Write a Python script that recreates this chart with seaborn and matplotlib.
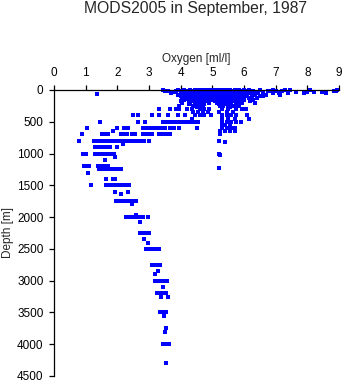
import matplotlib
matplotlib.use("Agg")
import matplotlib.pyplot as plt
import seaborn as sns
import pandas as pd

# Oxygen observations (ml/l) grouped by sampling depth (m)
depth_levels = [
    0, 10, 20, 30, 40, 50, 60, 75, 90, 100, 125, 140, 150, 175, 200, 225, 250, 275,
    300, 350, 400, 450, 500, 550, 600, 650, 700, 800, 820, 850, 900,
    1000, 1020, 1050, 1100, 1200, 1230, 1250, 1300, 1400, 1500, 1600, 1630,
    1750, 1800, 1960, 2000, 2080, 2250, 2350, 2400, 2500, 2750, 2850, 2900,
    3000, 3100, 3200, 3250, 3500, 3550, 3750, 3800, 4000, 4300,
]

oxygen_by_level = [
    [3.45, 3.9, 4.1, 4.3, 4.45, 4.55, 4.65, 4.75, 4.85, 4.95, 5.05, 5.15, 5.25, 5.35,
     5.45, 5.55, 5.7, 5.85, 6.0, 6.15, 6.5, 6.9, 7.3, 7.45, 8.1, 8.95],
    [3.6, 4.0, 4.25, 4.4, 4.5, 4.6, 4.7, 4.8, 4.9, 5.0, 5.1, 5.2, 5.3, 5.4, 5.5, 5.6,
     5.75, 5.9, 6.05, 6.2, 6.85, 7.2, 8.9],
    [3.5, 3.85, 4.05, 4.2, 4.35, 4.5, 4.6, 4.7, 4.8, 4.9, 5.0, 5.1, 5.2, 5.3, 5.4, 5.5,
     5.65, 5.8, 5.95, 6.1, 6.3, 6.75, 7.0, 8.85],
    [3.8, 4.15, 4.3, 4.45, 4.55, 4.65, 4.75, 4.85, 4.95, 5.05, 5.15, 5.25, 5.35, 5.45,
     5.55, 5.65, 5.75, 5.9, 6.05, 6.25, 6.6, 7.65, 8.0, 8.2, 8.45],
    [4.0, 4.25, 4.4, 4.6, 4.8, 5.0, 5.2, 5.4, 5.6, 5.8, 6.0, 6.4, 7.1],
    [3.7, 4.0, 4.2, 4.35, 4.5, 4.6, 4.7, 4.8, 4.9, 5.0, 5.1, 5.2, 5.3, 5.4, 5.5, 5.6,
     5.7, 5.85, 6.0, 6.2, 6.45, 6.9, 7.4, 7.9, 8.6],
    [1.35, 4.3, 4.7, 5.1, 5.5, 5.9],
    [3.9, 4.05, 4.3, 4.45, 4.55, 4.65, 4.75, 4.85, 4.95, 5.05, 5.15, 5.25, 5.35, 5.45,
     5.55, 5.65, 5.8, 5.95, 6.1, 6.35, 6.7, 7.15],
    [4.15, 4.4, 4.65, 4.9, 5.15, 5.4, 5.65, 5.9, 6.5],
    [4.0, 4.2, 4.35, 4.5, 4.6, 4.7, 4.8, 4.9, 5.0, 5.1, 5.2, 5.3, 5.4, 5.5, 5.6, 5.7,
     5.85, 6.05, 6.25, 6.6],
    [4.05, 4.3, 4.45, 4.55, 4.7, 4.8, 4.95, 5.05, 5.15, 5.25, 5.35, 5.5, 5.6, 5.75,
     5.9, 6.15, 6.4],
    [4.2, 4.5, 4.9, 5.1, 5.4, 5.65, 5.95],
    [4.1, 4.25, 4.4, 4.6, 4.75, 4.85, 5.0, 5.2, 5.3, 5.45, 5.55, 5.7, 5.85, 6.0, 6.3],
    [4.0, 4.35, 4.5, 4.65, 4.8, 5.1, 5.25, 5.4, 5.5, 5.65, 5.8, 6.2],
    [4.05, 4.3, 4.45, 4.6, 4.9, 5.15, 5.3, 5.45, 5.6, 5.75, 5.95, 6.35],
    [4.25, 4.5, 4.75, 5.2, 5.4, 5.6, 5.8],
    [3.95, 4.4, 4.55, 4.7, 5.25, 5.35, 5.5, 5.65, 5.85],
    [4.5, 4.65, 5.3, 5.55, 5.75],
    [3.3, 3.65, 3.85, 3.95, 4.2, 4.35, 4.62, 4.75, 4.9, 5.3, 5.5, 5.75, 5.95, 6.05],
    [4.4, 4.55, 4.7, 4.85, 5.2, 5.45, 5.65],
    [2.5, 2.65, 3.1, 3.3, 3.6, 3.9, 4.15, 4.45, 4.6, 4.75, 4.95, 5.3, 5.45, 5.6, 5.75, 6.1],
    [4.35, 5.3, 5.5, 5.7, 6.15],
    [1.45, 2.65, 2.87, 3.45, 3.55, 3.65, 3.75, 3.85, 3.95, 4.05, 4.15, 4.25, 4.35, 4.45,
     4.55, 5.3, 5.45, 5.6, 5.75, 5.9],
    [5.3, 5.4, 5.55],
    [1.05, 2.0, 2.2, 2.35, 2.8, 2.9, 3.0, 3.1, 3.2, 3.3, 3.4, 3.5, 3.65, 3.8, 3.95, 4.5,
     5.3, 5.45, 5.6, 5.7],
    [1.87, 5.25, 5.4, 5.55, 5.7],
    [0.87, 1.5, 1.6, 1.7, 2.1, 2.2, 2.3, 2.45, 2.55, 2.8, 2.9, 3.0, 3.1, 3.3, 3.45,
     3.55, 3.65, 5.25],
    [0.8, 1.25, 1.4, 1.5, 1.6, 1.7, 1.8, 1.9, 2.0, 2.1, 2.2, 2.3, 2.4, 2.5, 2.6, 2.7,
     2.85, 3.0, 5.2],
    [5.4],
    [2.18],
    [1.3, 1.4, 1.5, 1.6, 1.7, 1.78, 2.0],
    [0.92, 1.0, 1.3, 1.4, 1.5, 1.6, 1.7, 1.8, 1.88, 5.2],
    [5.25],
    [1.92],
    [1.6],
    [0.95, 1.02, 1.1, 1.4, 1.5, 1.6, 1.7],
    [5.2],
    [1.42, 1.5, 1.6, 1.7, 1.8, 1.9, 2.0, 2.1],
    [1.07],
    [1.64, 1.87, 1.92],
    [1.16, 1.65, 1.75, 1.85, 1.95, 2.05, 2.15, 2.25, 2.37],
    [1.92, 2.35],
    [2.13],
    [1.95, 2.08, 2.18, 2.28, 2.38, 2.48, 2.6],
    [2.45],
    [2.6],
    [2.27, 2.35, 2.45, 2.55, 2.65, 2.75, 2.82, 2.98],
    [2.7],
    [2.73, 2.8, 2.9, 3.0],
    [2.85],
    [2.98],
    [2.92, 3.0, 3.1, 3.2, 3.3],
    [3.08, 3.15, 3.25, 3.35],
    [3.27],
    [3.19],
    [3.19, 3.27, 3.35, 3.45, 3.57],
    [3.45],
    [3.26, 3.35, 3.45, 3.55],
    [3.39, 3.6],
    [3.34, 3.45, 3.55],
    [3.48],
    [3.55],
    [3.52],
    [3.45, 3.55, 3.64],
    [3.53],
]

x_ticks = [0, 1, 2, 3, 4, 5, 6, 7, 8, 9]
y_ticks = [0, 500, 1000, 1500, 2000, 2500, 3000, 3500, 4000, 4500]

rows = [(ox, d) for d, oxs in zip(depth_levels, oxygen_by_level) for ox in oxs]
df = pd.DataFrame(rows, columns=["oxygen", "depth"])

sns.set_style("ticks")
plt.rcParams["font.family"] = ["Liberation Sans", "DejaVu Sans"]

W, H = 345, 384
fig = plt.figure(figsize=(W / 100, H / 100), dpi=100)
ax = fig.add_axes([54 / W, 1 - 376 / H, (339 - 54) / W, (376 - 90) / H])

sns.scatterplot(data=df, x="oxygen", y="depth", marker="s", s=6,
                color="#0000ff", linewidth=0, ax=ax, clip_on=False)

ax.set_xlim(0, 9)
ax.set_ylim(4500, 0)
ax.set_xticks(x_ticks)
ax.set_yticks(y_ticks)
ax.xaxis.tick_top()
ax.xaxis.set_label_position("top")
for side in ("right", "bottom"):
    ax.spines[side].set_visible(False)
for side in ("left", "top"):
    ax.spines[side].set_linewidth(0.9)
    ax.spines[side].set_color("black")
ax.tick_params(axis="both", direction="out", length=3.6, width=0.9,
               colors="black", labelsize=8.5, pad=4)
ax.set_xlabel("Oxygen [ml/l]", fontsize=8.5, labelpad=4)
ax.set_ylabel("Depth [m]", fontsize=8.5, labelpad=2)

fig.text(196 / W, 1 - 13.3 / H, "MODS2005 in September, 1987",
         ha="center", va="baseline", fontsize=11.3)

fig.savefig("out.png", dpi=100)
